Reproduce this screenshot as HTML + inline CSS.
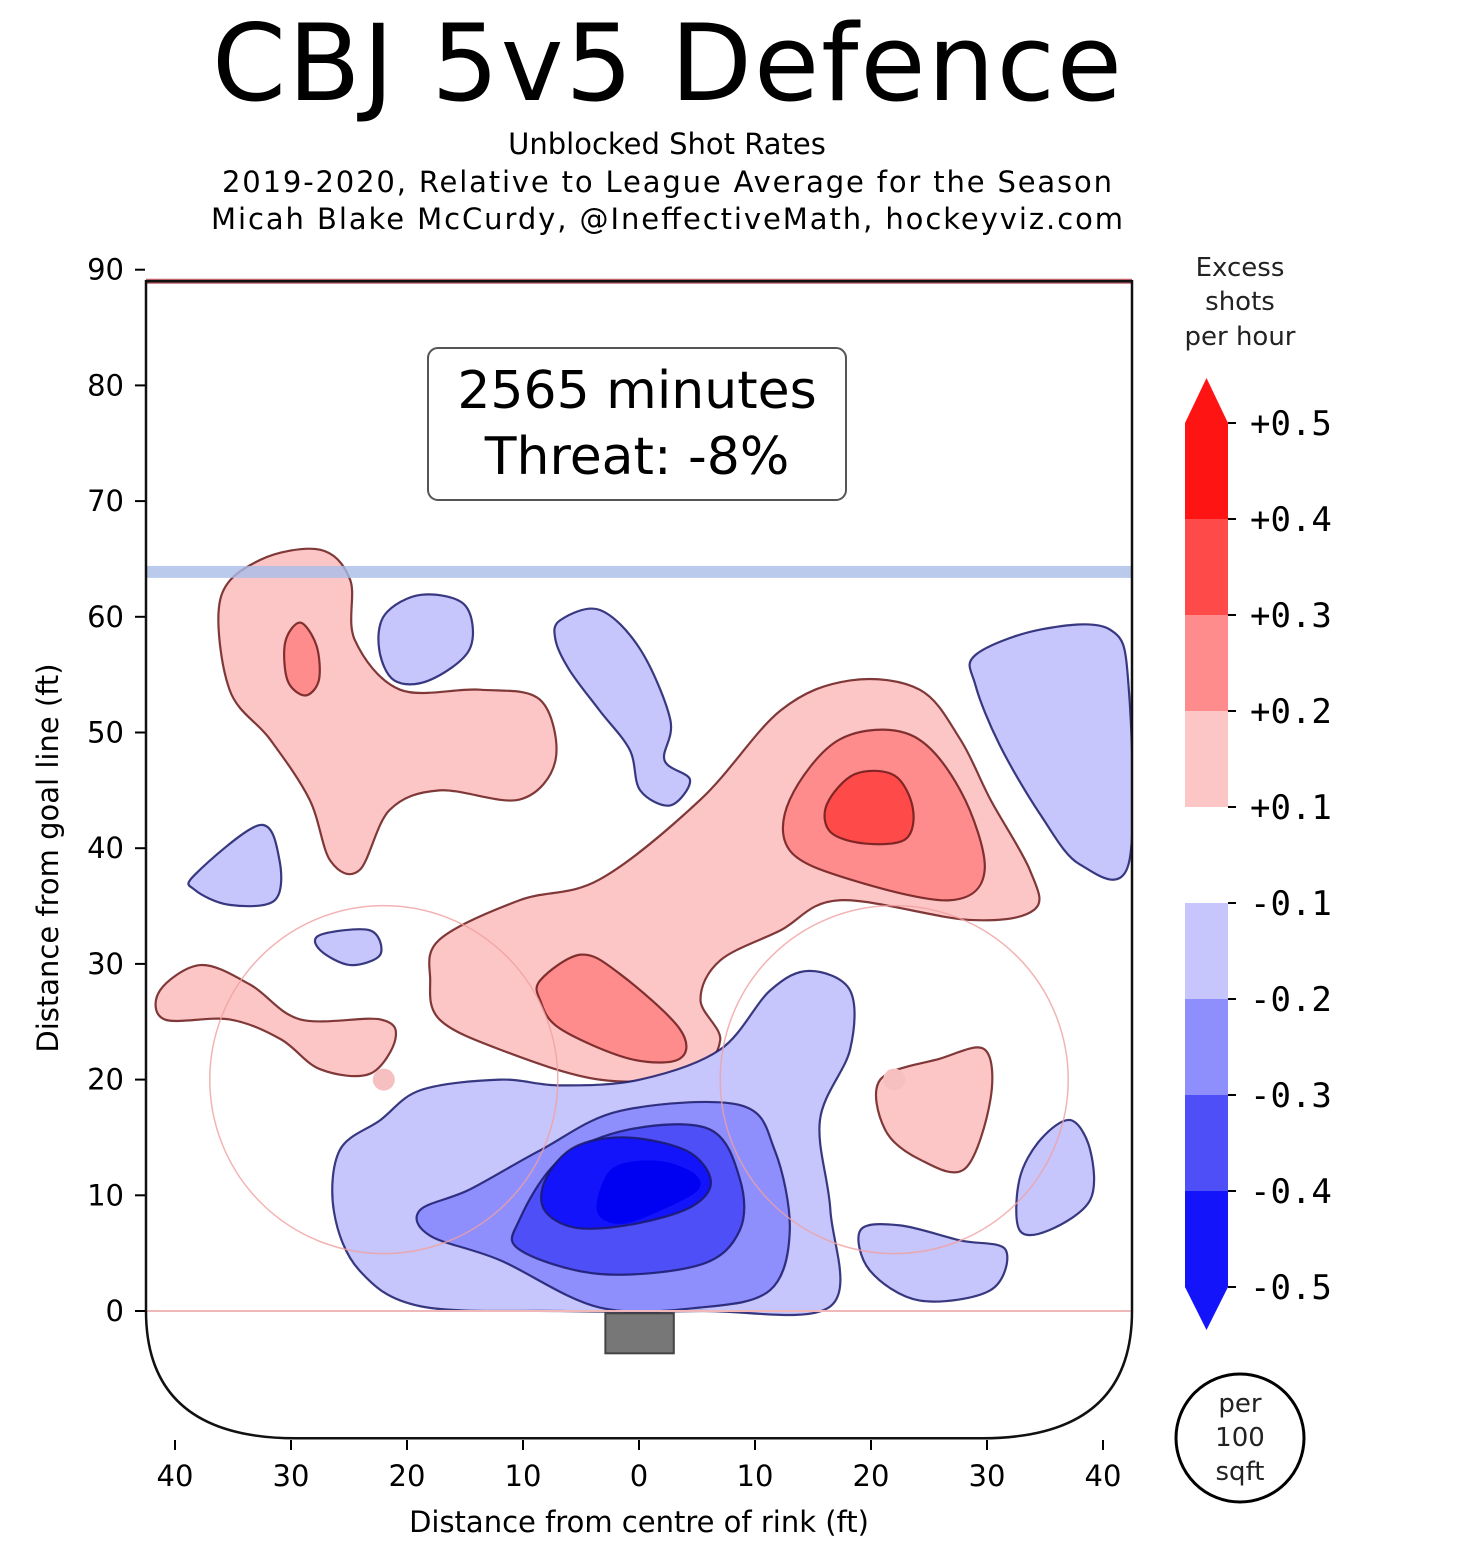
<!DOCTYPE html>
<html><head><meta charset="utf-8"><style>
body{margin:0;background:#fff;}
svg{display:block;font-family:"DejaVu Sans","Liberation Sans",sans-serif;}
</style></head><body>
<svg id="chart" width="1460" height="1552" viewBox="0 0 1460 1552" xmlns="http://www.w3.org/2000/svg">
<text x="667" y="100" font-size="106" text-anchor="middle" fill="#000" textLength="910">CBJ 5v5 Defence</text>
<text x="667" y="154" font-size="29" text-anchor="middle">Unblocked Shot Rates</text>
<text x="667" y="192" font-size="29" text-anchor="middle" textLength="890">2019-2020, Relative to League Average for the Season</text>
<text x="667" y="229" font-size="29" text-anchor="middle" textLength="912">Micah Blake McCurdy, @IneffectiveMath, hockeyviz.com</text>
<defs><clipPath id="rinkclip"><path id="rinkpathc"/></clipPath></defs>
<g id="plot"></g>
<g id="axes"></g>
<g id="cbar"></g>
<g>
<rect x="428" y="348" width="418" height="152" rx="10" fill="#fff" stroke="#555" stroke-width="2"/>
<text x="637" y="408" font-size="52" text-anchor="middle">2565 minutes</text>
<text x="637" y="474" font-size="52" text-anchor="middle">Threat: -8%</text>
</g>
<text font-size="26" text-anchor="middle" fill="#222"><tspan x="1240" y="276">Excess</tspan><tspan x="1240" y="310">shots</tspan><tspan x="1240" y="345">per hour</tspan></text>
<g>
<circle cx="1240" cy="1438" r="64" fill="#fff" stroke="#000" stroke-width="3"/>
<text font-size="26" text-anchor="middle" fill="#222"><tspan x="1240" y="1412">per</tspan><tspan x="1240" y="1446">100</tspan><tspan x="1240" y="1480">sqft</tspan></text>
</g>
<text x="639" y="1532" font-size="29" text-anchor="middle">Distance from centre of rink (ft)</text>
<text transform="translate(58,858) rotate(-90)" font-size="29" text-anchor="middle">Distance from goal line (ft)</text>
</svg>
<script>
const xTicks=[-40,-30,-20,-10,0,10,20,30,40];
const yTicks=[0,10,20,30,40,50,60,70,80,90];
const cbarTicks=["+0.5","+0.4","+0.3","+0.2","+0.1","-0.1","-0.2","-0.3","-0.4","-0.5"];
const cbarColors=["#ff1414","#ff4a4a","#ff8c8c","#fdc6c6","#ffffff","#c6c6fc","#8e8efc","#4f4ff8","#1414fa"];
// contour regions: [level, points in ft (x,y)]
const regionLevels=[1,2,1,2,3,2,1,1,-1,-1,-1,-1,-1,-1,-1,-2,-3,-1,-4];
const regionPoints=[
[[-36.1,61.5],[-32.7,64.9],[-27.5,65.8],[-24.9,63.2],[-24.5,58],[-20.6,53.7],[-13.7,53.7],[-8.5,52.8],[-7.2,47.6],[-10.3,44.2],[-17.2,45],[-21.5,43.3],[-24.1,38.1],[-26.6,38.9],[-28.4,44.2],[-31.8,49.4],[-35.3,53.7]],
[[-29.2,59.5],[-27.8,57.5],[-27.6,54.5],[-28.8,53.2],[-30.3,54.5],[-30.5,57.8]],
[[-17.2,32.1],[-10.3,35.5],[-3.4,37.3],[5.3,44.2],[12.2,51.9],[18.2,54.5],[24.2,53.7],[27.7,49.4],[30.3,44.2],[33.7,38.1],[34.1,34.7],[28.5,33.8],[17.3,35.5],[12.2,32.9],[7,30.3],[5.3,26.9],[7,23.4],[4.4,20.4],[-3.4,20],[-12,22.6],[-17.2,25.2],[-18,28.6]],
[[13,44.2],[17.3,49.4],[23.4,49.8],[27.7,45],[29.8,38.1],[26.8,35.5],[18.2,37.3],[13,39.8]],
[[16.2,43.8],[18.6,46.4],[22,46.3],[23.6,43.5],[23,40.8],[19.5,40.4],[16.5,41.4]],
[[-8.5,28.6],[-5,30.8],[-1.6,29.1],[3.5,24.4],[3.5,21.8],[-0.8,21.8],[-6.8,24.4],[-8.5,26.8]],
[[-41.3,27.7],[-37.8,29.9],[-33.5,28.2],[-29.2,25.2],[-22.3,25.2],[-21,23.5],[-23.2,20.5],[-27.5,20.9],[-30.9,23.5],[-35.3,25.2],[-40.9,25.2]],
[[20.8,20],[25.9,21.8],[29.8,22.6],[30.3,18.3],[28.1,12.3],[24.2,13.1],[21.2,15.7]],
[[-21.9,60.2],[-18.8,61.9],[-15,61],[-14.6,57.2],[-18.1,54.5],[-21.1,54.5],[-22.4,57.2]],
[[-6.8,59.7],[-3.4,60.6],[0.1,57.2],[2.7,51.1],[2.2,47.6],[4.4,45.9],[2.7,43.7],[0.1,45],[-0.8,48.5],[-3.4,51.9],[-6,55.4],[-7.2,58]],
[[29,56.7],[34.6,58.9],[40.6,58.9],[42.2,54.1],[42.2,38.6],[38,38.6],[34.6,42.9],[31.1,48.9],[29,54.1]],
[[-38.3,37.7],[-32.7,42],[-31,39],[-31.4,35.5],[-35.3,35.1],[-38.3,36.4]],
[[-27.5,32.5],[-23.2,32.9],[-22.3,30.8],[-24.9,29.9],[-27.5,31.2]],
[[-25.8,13.9],[-22.3,16.5],[-18.8,19.1],[-12,20],[-6.8,19.5],[0.1,20],[7,22.6],[11.3,27.7],[14.7,29.4],[18.2,27.7],[18.2,22.6],[15.6,16.5],[16.5,8.7],[16.5,0.4],[5.3,0],[-6.8,0],[-18.8,0.4],[-24.1,3.5],[-26.3,8.6]],
[[19.1,7],[22.5,7.4],[27.7,6.1],[31.6,5.3],[30.3,1.8],[24.2,0.9],[19.9,3.5]],
[[-18.9,8.7],[-14.6,10.5],[-8.5,13.9],[-1.6,17.3],[8.7,17.8],[11.7,13.9],[13,7],[11.3,1.8],[5.3,0.3],[-3.4,0.3],[-12,4.4],[-18,6.5]],
[[-10.3,7.9],[-6.8,13.1],[-0.8,15.7],[6.1,15.7],[8.7,11.4],[8.7,7],[5.3,4],[-3.4,3.2],[-10.3,5.3]],
[[34.6,14.8],[37.2,16.5],[38.9,13.9],[38.9,9.6],[35.4,7],[32.8,7],[32.8,11.4]],
[[-8,11.5],[-5.5,14.2],[-1,15],[4.2,13.8],[6.2,11.2],[4.5,9],[-0.5,7.5],[-5.5,7.2],[-8.2,8.8]]
];
const darkestPoints=[[-3.6,9.6],[-2.2,12.4],[1.5,13],[4.6,12],[5.2,10.6],[3,9.2],[-1,7.6],[-3.2,8]];

const NS='http://www.w3.org/2000/svg';
const X=v=>639+v*11.6, Y=v=>1311-v*11.57;
function mk(tag,attrs,parent){const e=document.createElementNS(NS,tag);for(const k in attrs)e.setAttribute(k,attrs[k]);parent.appendChild(e);return e;}
function smooth(pts){const p=pts.map(a=>[X(a[0]),Y(a[1])]);const n=p.length;let d=`M${p[0][0]},${p[0][1]}`;
for(let i=0;i<n;i++){const p0=p[(i-1+n)%n],p1=p[i],p2=p[(i+1)%n],p3=p[(i+2)%n];
d+=`C${p1[0]+(p2[0]-p0[0])/6},${p1[1]+(p2[1]-p0[1])/6} ${p2[0]-(p3[0]-p1[0])/6},${p2[1]-(p3[1]-p1[1])/6} ${p2[0]},${p2[1]}`;}return d+'Z';}
function levelColor(l){return cbarColors[4-l];}
const plot=document.getElementById('plot');
const L=X(-42.5),R=X(42.5),T=Y(89),B=Y(-11);
const rinkD=`M${L},${T} L${R},${T} L${R},${Y(0)} Q${R},${B} ${R-150},${B} L${L+150},${B} Q${L},${B} ${L},${Y(0)} Z`;
document.getElementById('rinkpathc').setAttribute('d',rinkD);
const bg=mk('path',{d:rinkD,fill:'#fff'},plot);


const cg=mk('g',{'clip-path':'url(#rinkclip)'},plot);


regionPoints.forEach((pts,i)=>{const l=regionLevels[i];
const e=mk('path',{d:smooth(pts),fill:levelColor(l),stroke:l>0?'#6a1a1a':'#1a1a6a','stroke-width':2.2,'stroke-opacity':0.85},cg);

});
const dk=mk('path',{d:smooth(darkestPoints),fill:'#0000f2'},cg);


const rl=mk('line',{x1:L,x2:R,y1:Y(89),y2:Y(89),stroke:'#c0606a','stroke-width':5},plot);


const bl=mk('rect',{x:L,width:R-L,y:Y(64.4),height:12,fill:'#a8bde8','fill-opacity':0.8},plot);


const gl=mk('line',{x1:L,x2:R,y1:Y(0),y2:Y(0),stroke:'#f0b8b8','stroke-width':2},plot);


[-22,22].forEach(c=>{const ci=mk('circle',{cx:X(c),cy:Y(20),r:15*11.6,fill:'none',stroke:'#f0a0a0','stroke-width':1.5,'stroke-opacity':0.8},plot);


const d=mk('circle',{cx:X(c),cy:Y(20),r:11,fill:'#f6c0c0'},plot);

});
const net=mk('rect',{x:X(-2.9),y:Y(-0.2),width:X(3)-X(-2.9),height:40,fill:'#777',stroke:'#444','stroke-width':2},plot);


const ol=mk('path',{d:rinkD,fill:'none',stroke:'#111','stroke-width':2.5},plot);


const ax=document.getElementById('axes');
xTicks.forEach(t=>{const tk=mk('line',{x1:X(t),x2:X(t),y1:1440,y2:1450,stroke:'#000','stroke-width':2},ax);


const tx=mk('text',{x:X(t),y:1486,'font-size':29,'text-anchor':'middle'},ax);tx.textContent=Math.abs(t);

});
yTicks.forEach(t=>{const tk=mk('line',{x1:135,x2:145,y1:Y(t),y2:Y(t),stroke:'#000','stroke-width':2},ax);


const tx=mk('text',{x:124,y:Y(t)+10,'font-size':29,'text-anchor':'end'},ax);tx.textContent=t;

});
const cb=document.getElementById('cbar');const cx0=1185,cw=43,ct=423,cbot=1287,seg=(cbot-ct)/cbarColors.length;
cbarColors.forEach((c,i)=>{const r=mk('rect',{x:cx0,y:ct+i*seg,width:cw,height:seg+0.5,fill:c},cb);

});
const up=mk('polygon',{points:`${cx0},${ct} ${cx0+cw/2},378 ${cx0+cw},${ct}`,fill:cbarColors[0]},cb);


const dn=mk('polygon',{points:`${cx0},${cbot} ${cx0+cw/2},1330 ${cx0+cw},${cbot}`,fill:cbarColors[8]},cb);


cbarTicks.forEach((t,i)=>{const y=ct+i*seg;const tk=mk('line',{x1:cx0+cw,x2:cx0+cw+8,y1:y,y2:y,stroke:'#000','stroke-width':2},cb);


const tx=mk('text',{x:1250,y:y+12,'font-size':34,'font-family':'"DejaVu Sans Mono","Liberation Mono",monospace'},cb);tx.textContent=t;

});
</script>
</body></html>
